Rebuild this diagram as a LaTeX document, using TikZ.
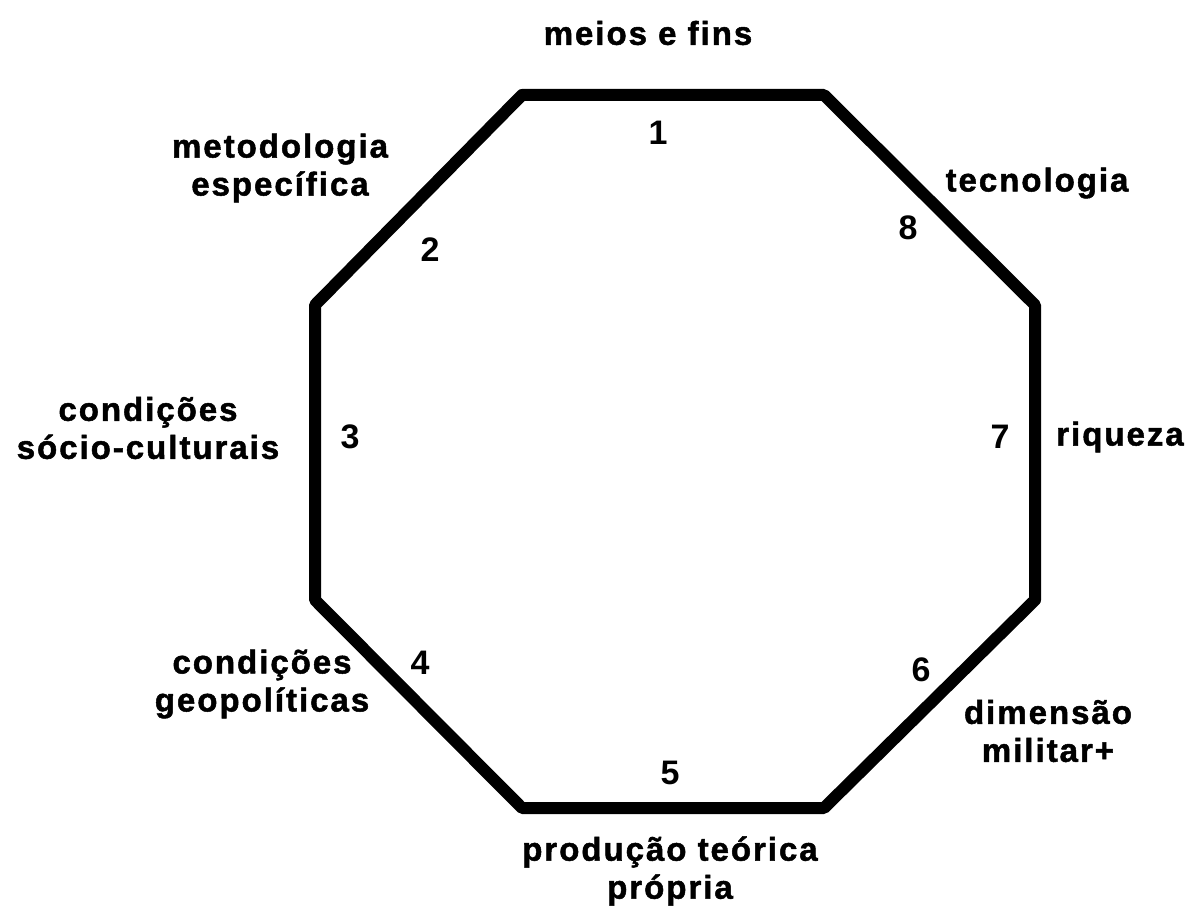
\documentclass[tikz,border=0pt]{standalone}
\usepackage{fontspec}
\setmainfont{Liberation Sans}[BoldFont={Liberation Sans Bold}]
\newfontfamily\lblfont{Liberation Sans Bold}[LetterSpace=6,FakeBold=1.5]
\newfontfamily\numfont{Liberation Sans Bold}
\begin{document}
\begin{tikzpicture}[x=1pt,y=-1pt,
  lbl/.style={font=\lblfont\fontsize{33}{38}\selectfont, align=center, inner sep=0pt},
  num/.style={font=\numfont\fontsize{34}{38}\selectfont, inner sep=0pt},
  octo/.style={line width=12pt, line join=round, black}]
\useasboundingbox (0,0) rectangle (1191,917);
\coordinate (v1) at (522,95);
\coordinate (v2) at (824,95);
\coordinate (v3) at (1035,305);
\coordinate (v4) at (1035,600);
\coordinate (v5) at (824,808);
\coordinate (v6) at (522,808);
\coordinate (v7) at (315,600);
\coordinate (v8) at (315,305);
\draw[octo] (v1) -- (v2) -- (v3) -- (v4) -- (v5) -- (v6) -- (v7) -- (v8) -- cycle;
% labels
\node[lbl] (l1) at (648,33) {meios e fins};
\node[lbl] (l2) at (280,168) {metodologia\\específica};
\node[lbl] (l8) at (1037,183) {tecnologia};
\node[lbl] (l3) at (148,428) {condições\\sócio-culturais};
\node[lbl] (l7) at (1120,437) {riqueza};
\node[lbl] (l4) at (262,684) {condições\\geopolíticas};
\node[lbl] (l6) at (1048,731) {dimensão\\militar+};
\node[lbl] (l5) at (670,871) {produção teórica\\própria};
% numbers
\node[num] (n1) at (658,133) {1};
\node[num] (n2) at (430,250) {2};
\node[num] (n8) at (908,228) {8};
\node[num] (n3) at (350,437) {3};
\node[num] (n7) at (1000,437) {7};
\node[num] (n4) at (420,663) {4};
\node[num] (n6) at (921,670) {6};
\node[num] (n5) at (670,773) {5};
\end{tikzpicture}
\end{document}
